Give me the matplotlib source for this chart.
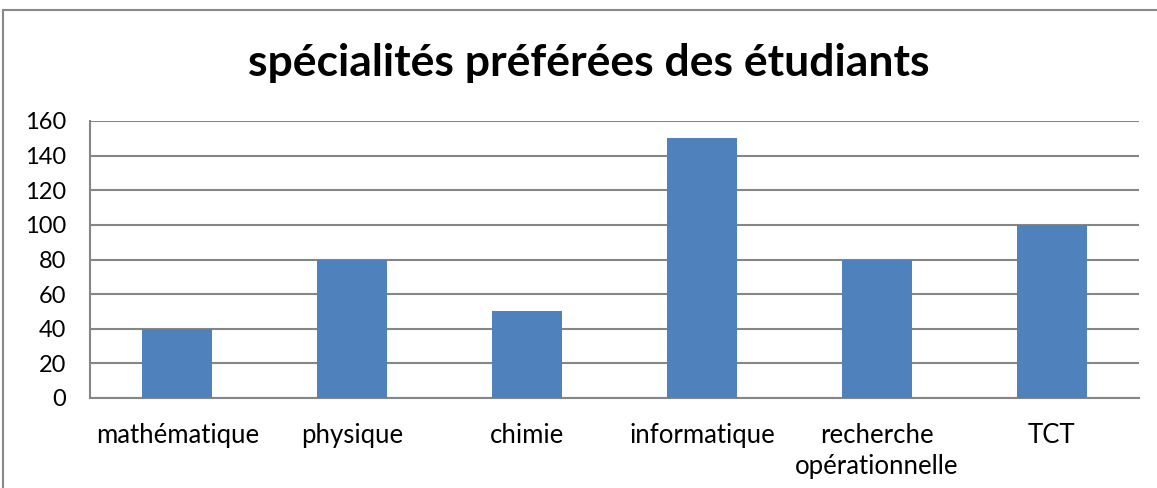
import matplotlib.pyplot as plt
from matplotlib.patches import Rectangle

# data
categories = ["mathématique", "physique", "chimie", "informatique",
              "recherche\nopérationnelle", "TCT"]
values = [40, 80, 50, 150, 80, 100]
yticks = [0, 20, 40, 60, 80, 100, 120, 140, 160]

plt.rcParams['font.family'] = ['Lato', 'DejaVu Sans']

W, H = 1157, 488
fig = plt.figure(figsize=(W / 100, H / 100), dpi=100)

# outer chart border (runs past the right and bottom edges)
fig.patches.append(Rectangle((3 / W, -0.1), 1.2, 1 - 10 / H + 0.1,
                             transform=fig.transFigure, fill=False,
                             edgecolor="#888888", linewidth=1.5))

ax = fig.add_axes([90 / W, 1 - 398 / H, (1139 - 90) / W, (398 - 121) / H])

x = range(len(categories))
ax.bar(x, values, width=0.4, color="#4F81BD", zorder=3)

ax.set_xlim(-0.5, len(categories) - 0.5)
ax.set_ylim(0, 160)
ax.set_yticks(yticks)
ax.set_xticks(list(x))
ax.set_xticklabels(categories, fontsize=18.5, linespacing=1.3)
ax.tick_params(axis="y", labelsize=17, length=0, pad=17)
ax.tick_params(axis="x", length=0, pad=18)

ax.grid(axis="y", color="#868686", linewidth=1.5, zorder=0)
for side in ["top", "right"]:
    ax.spines[side].set_visible(False)
ax.spines["left"].set_color("#868686")
ax.spines["left"].set_linewidth(1.5)
ax.spines["bottom"].set_color("#868686")
ax.spines["bottom"].set_linewidth(1.5)

fig.text(589 / W, 1 - 63 / H, "spécialités préférées des étudiants",
         ha="center", va="center", fontsize=32, fontweight="bold")

fig.savefig("out.png", dpi=100)
